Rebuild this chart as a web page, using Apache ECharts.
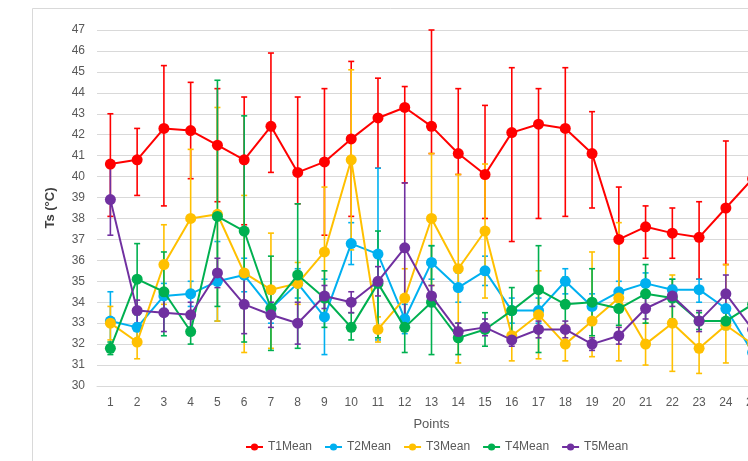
<!DOCTYPE html>
<html><head><meta charset="utf-8">
<script src="https://cdn.jsdelivr.net/npm/echarts@6/dist/echarts.min.js"></script>
<style>html,body{margin:0;padding:0;background:#fff}#c{width:748px;height:461px}</style>
</head><body><div id="c"></div>
<script>
const categories = ['1','2','3','4','5','6','7','8','9','10','11','12','13','14','15','16','17','18','19','20','21','22','23','24','25'];
const seriesNames = ['T1Mean','T2Mean','T3Mean','T4Mean','T5Mean'];
const colors = ['#ff0000','#00b0f0','#ffc000','#00b050','#7030a0'];

const t1 = [40.6,40.8,42.3,42.2,41.5,40.8,42.4,40.2,40.7,41.8,42.8,43.3,42.4,41.1,40.1,42.1,42.5,42.3,41.1,37.0,37.6,37.3,37.1,38.5,39.9];
const t1Lo = [38.1,39.1,38.6,39.9,38.8,37.7,40.2,38.7,37.2,38.1,40.4,39.7,41.1,40.1,38.0,36.9,38.0,38.1,38.5,34.6,36.1,36.1,35.1,35.8,37.5];
const t1Hi = [43.0,42.3,45.3,44.5,44.2,43.8,45.9,43.8,44.2,45.5,44.7,44.3,47.0,44.2,43.4,45.2,44.2,45.2,43.1,39.5,38.6,38.5,38.8,41.7,42.3];

const t2 = [33.1,32.8,34.3,34.4,35.0,35.3,33.7,34.9,33.3,36.8,36.3,33.2,35.9,34.7,35.5,33.6,33.6,35.0,33.8,34.5,34.9,34.6,34.6,33.7,31.6];
const t2Lo = [31.7,32.1,33.7,33.8,33.1,34.5,33.0,34.2,31.5,35.8,32.2,32.5,35.1,34.0,34.8,33.0,33.0,34.4,33.2,34.0,34.4,34.1,34.0,33.1,31.0];
const t2Hi = [34.5,33.5,34.9,35.0,36.9,36.1,34.4,35.6,35.1,37.8,40.4,33.9,36.7,35.4,36.2,34.2,34.2,35.6,34.4,35.0,35.4,35.1,35.1,34.3,32.2];

const t3 = [33.0,32.1,35.8,38.0,38.2,35.4,34.6,34.9,36.4,40.8,32.7,34.2,38.0,35.6,37.4,32.4,33.4,32.0,33.1,34.2,32.0,33.0,31.8,32.9,32.0];
const t3Lo = [32.2,31.3,33.9,34.6,33.1,31.6,31.8,33.9,33.3,36.5,32.1,32.8,34.8,31.1,34.2,31.2,31.3,31.2,31.4,31.2,31.0,30.7,30.6,31.1,31.0];
const t3Hi = [33.8,32.9,37.7,41.3,43.3,39.1,37.3,35.9,39.5,45.1,33.3,35.6,41.1,40.1,40.6,33.6,35.5,32.9,36.4,37.8,33.0,35.3,33.0,35.8,33.0];

const t4 = [31.8,35.1,34.5,32.6,38.1,37.4,33.7,35.3,34.2,32.8,34.9,32.8,34.0,32.3,32.7,33.6,34.6,33.9,34.0,33.7,34.4,34.2,33.1,33.1,33.9];
const t4Lo = [31.5,33.4,32.4,32.0,33.8,32.1,31.7,31.8,32.8,32.2,32.3,31.6,31.5,31.5,31.9,32.4,31.6,32.6,32.4,32.9,33.0,33.2,32.7,32.7,33.3];
const t4Hi = [32.1,36.8,36.4,33.2,44.6,42.9,36.2,38.7,35.5,33.5,37.4,34.0,36.7,33.0,33.5,34.7,36.7,35.2,35.6,34.5,35.8,35.1,33.5,33.5,34.5];

const t5 = [38.9,33.6,33.5,33.4,35.4,33.9,33.4,33.0,34.3,34.0,35.0,36.6,34.3,32.6,32.8,32.2,32.7,32.7,32.0,32.4,33.7,34.3,33.1,34.4,32.7];
const t5Lo = [37.2,33.0,32.6,32.8,34.7,32.5,32.8,32.0,33.7,33.5,34.3,33.4,33.8,32.2,32.4,31.9,32.3,32.3,31.7,32.0,33.2,33.8,32.6,33.5,32.2];
const t5Hi = [40.5,34.1,34.4,34.0,36.1,35.3,34.0,34.0,34.8,34.5,35.7,39.7,34.8,33.0,33.2,32.5,33.1,33.1,32.3,32.8,34.2,34.8,33.6,35.3,33.2];

const yTicks = {min:30, max:47, interval:1};

const means = [t1,t2,t3,t4,t5];
const los = [t1Lo,t2Lo,t3Lo,t4Lo,t5Lo];
const his = [t1Hi,t2Hi,t3Hi,t4Hi,t5Hi];

function errRender(color){
  return function(params, api){
    const x = api.value(0);
    const lo = api.coord([x, api.value(1)]);
    const hi = api.coord([x, api.value(2)]);
    const cw = 3;
    const st = {stroke: color, lineWidth: 1.6};
    return {type:'group', children:[
      {type:'line', shape:{x1:lo[0], y1:lo[1], x2:hi[0], y2:hi[1]}, style:st},
      {type:'line', shape:{x1:lo[0]-cw, y1:lo[1], x2:lo[0]+cw, y2:lo[1]}, style:st},
      {type:'line', shape:{x1:hi[0]-cw, y1:hi[1], x2:hi[0]+cw, y2:hi[1]}, style:st}
    ]};
  };
}

const series = [];
for (let i=0;i<5;i++){
  series.push({
    type:'custom', name: 'err' + (i+1), z: 2,
    renderItem: errRender(colors[i]),
    encode:{x:0, y:[1,2]},
    data: categories.map((c,j)=>[j, los[i][j], his[i][j]]),
    clip:false, silent:true
  });
}
for (let i=0;i<5;i++){
  series.push({
    type:'line', name: seriesNames[i], z: 3 + i,
    data: means[i],
    symbol:'circle', symbolSize: 11,
    itemStyle:{color: colors[i]},
    lineStyle:{color: colors[i], width: 2},
    emphasis:{disabled:true}
  });
}

const chart = echarts.init(document.getElementById('c'), null, {renderer:'canvas'});
chart.setOption({
  animation:false,
  backgroundColor:'#ffffff',
  graphic:[{type:'rect', shape:{x:32.5, y:8.5, width:800, height:500}, style:{fill:'none', stroke:'#d9d9d9', lineWidth:1}, z:-10}],
  grid:{left:97, width:669, top:30, bottom:75, outerBoundsMode:'none', containLabel:false},
  xAxis:{
    type:'category', data: categories, boundaryGap:true,
    name:'Points', nameLocation:'middle', nameGap:32,
    nameTextStyle:{color:'#595959', fontSize:13, fontFamily:'Liberation Sans'},
    axisTick:{show:false},
    axisLine:{lineStyle:{color:'#d9d9d9'}},
    axisLabel:{color:'#595959', fontSize:12, margin:11, fontFamily:'Liberation Sans'}
  },
  yAxis:{
    type:'value', min:yTicks.min, max:yTicks.max, interval:yTicks.interval,
    name:'Ts (°C)', nameLocation:'middle', nameGap:40, nameRotate:90,
    nameTextStyle:{color:'#404040', fontSize:13, fontWeight:'bold', fontFamily:'Liberation Sans'},
    axisLine:{show:false}, axisTick:{show:false},
    splitLine:{lineStyle:{color:'#d9d9d9', width:1}},
    axisLabel:{color:'#595959', fontSize:12, margin:12, fontFamily:'Liberation Sans'}
  },
  legend:{
    data: seriesNames, left:245, top:441, padding:0, itemWidth:17, itemHeight:9, itemGap:12,
    textStyle:{color:'#595959', fontSize:12, fontFamily:'Liberation Sans'}
  },
  series: series
});
</script></body></html>
